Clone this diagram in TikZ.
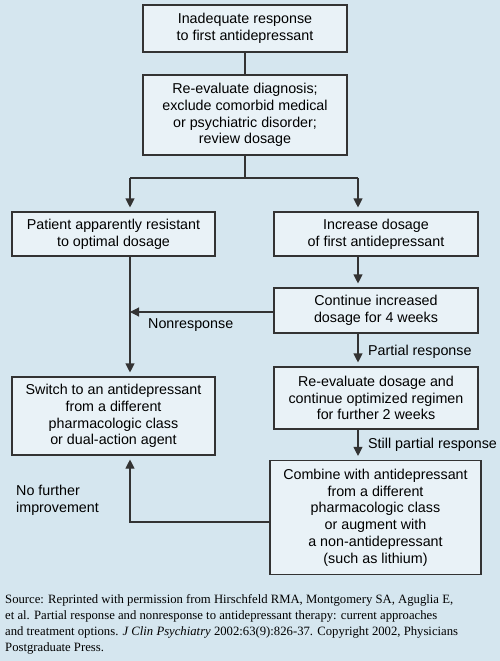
\documentclass[tikz,border=0pt]{standalone}
\usepackage{fontspec}
\setmainfont{Liberation Sans}
\newfontfamily\srcfont{Liberation Serif}
\usetikzlibrary{arrows.meta}
\definecolor{bgblue}{HTML}{D5E6EF}
\definecolor{boxfill}{HTML}{E9F2F7}
\definecolor{linegray}{HTML}{333333}
\begin{document}
\begin{tikzpicture}[x=1pt,y=-1pt,
  box/.style={draw=linegray, line width=1.1pt, fill=boxfill, align=center, inner sep=0pt,
    font=\fontsize{14.3}{16.8}\selectfont},
  conn/.style={draw=linegray, line width=1.1pt},
  arr/.style={conn, -{Triangle[width=9pt,length=9pt]}, shorten >=4pt},
  lbl/.style={font=\fontsize{14.3}{16.8}\selectfont, inner sep=0pt, align=left}]
\fill[bgblue] (0,0) rectangle (500,661);
\useasboundingbox (0,0) rectangle (500,661);

\node[box, minimum width=204pt, minimum height=47pt] (b1) at (245,28.5)
  {Inadequate response\\to first antidepressant};
\node[box, minimum width=204pt, minimum height=80pt] (b2) at (245,115)
  {Re-evaluate diagnosis;\\exclude comorbid medical\\or psychiatric disorder;\\review dosage};
\node[box, minimum width=203pt, minimum height=44pt] (ba) at (113.5,234)
  {Patient apparently resistant\\to optimal dosage};
\node[box, minimum width=204pt, minimum height=44pt] (bb) at (376,234)
  {Increase dosage\\of first antidepressant};
\node[box, minimum width=204pt, minimum height=45pt] (bc) at (376,310.5)
  {Continue increased\\dosage for 4 weeks};
\node[box, minimum width=203pt, minimum height=78pt] (bd) at (113.5,416)
  {Switch to an antidepressant\\from a different\\pharmacologic class\\or dual-action agent};
\node[box, minimum width=204pt, minimum height=62pt] (be) at (376,398)
  {Re-evaluate dosage and\\continue optimized regimen\\for further 2 weeks};
\node[box, minimum width=211pt, minimum height=114pt] (bf) at (375.5,517.5)
  {Combine with antidepressant\\from a different\\pharmacologic class\\or augment with\\a non-antidepressant\\(such as lithium)};

\coordinate (split) at (245,178);
\coordinate (splitL) at (130,178);
\coordinate (splitR) at (358,178);
\coordinate (nonresp) at (130,312);
\coordinate (nofurther) at (130,522);

\draw[conn] (b1) -- (b2);
\draw[conn] (b2.south) -- (split);
\draw[conn] (splitL) -- (splitR);
\draw[arr] (splitL) -- (splitL |- ba.north);
\draw[arr] (splitR) -- (splitR |- bb.north);
\draw[arr] (splitR |- bb.south) -- (splitR |- bc.north);
\draw[arr, shorten >=0pt] (nonresp -| bc.west) -- (nonresp);
\draw[arr] (splitL |- ba.south) -- (splitL |- bd.north);
\draw[arr] (splitR |- bc.south) -- (splitR |- be.north);
\draw[arr] (splitR |- be.south) -- (splitR |- bf.north);
\draw[arr] (nofurther -| bf.west) -- (nofurther) -- (splitL |- bd.south);

\node[lbl, anchor=west] (lnon) at (148,325) {Nonresponse};
\node[lbl, anchor=west] (lpart) at (368,352) {Partial response};
\node[lbl, anchor=west] (lstill) at (368,445) {Still partial response};
\node[lbl, anchor=west] (lno) at (16,500.5) {No further\\improvement};

\node[anchor=north west, inner sep=0pt, align=left,
  font=\srcfont\fontsize{12.7}{16}\selectfont] (src) at (5,594)
  {Source: Reprinted with permission from Hirschfeld RMA, Montgomery SA, Aguglia E,\\
   et al. Partial response and nonresponse to antidepressant therapy: current approaches\\
   and treatment options. \textit{J Clin Psychiatry} 2002:63(9):826-37. Copyright 2002, Physicians\\
   Postgraduate Press.};
\end{tikzpicture}
\end{document}
